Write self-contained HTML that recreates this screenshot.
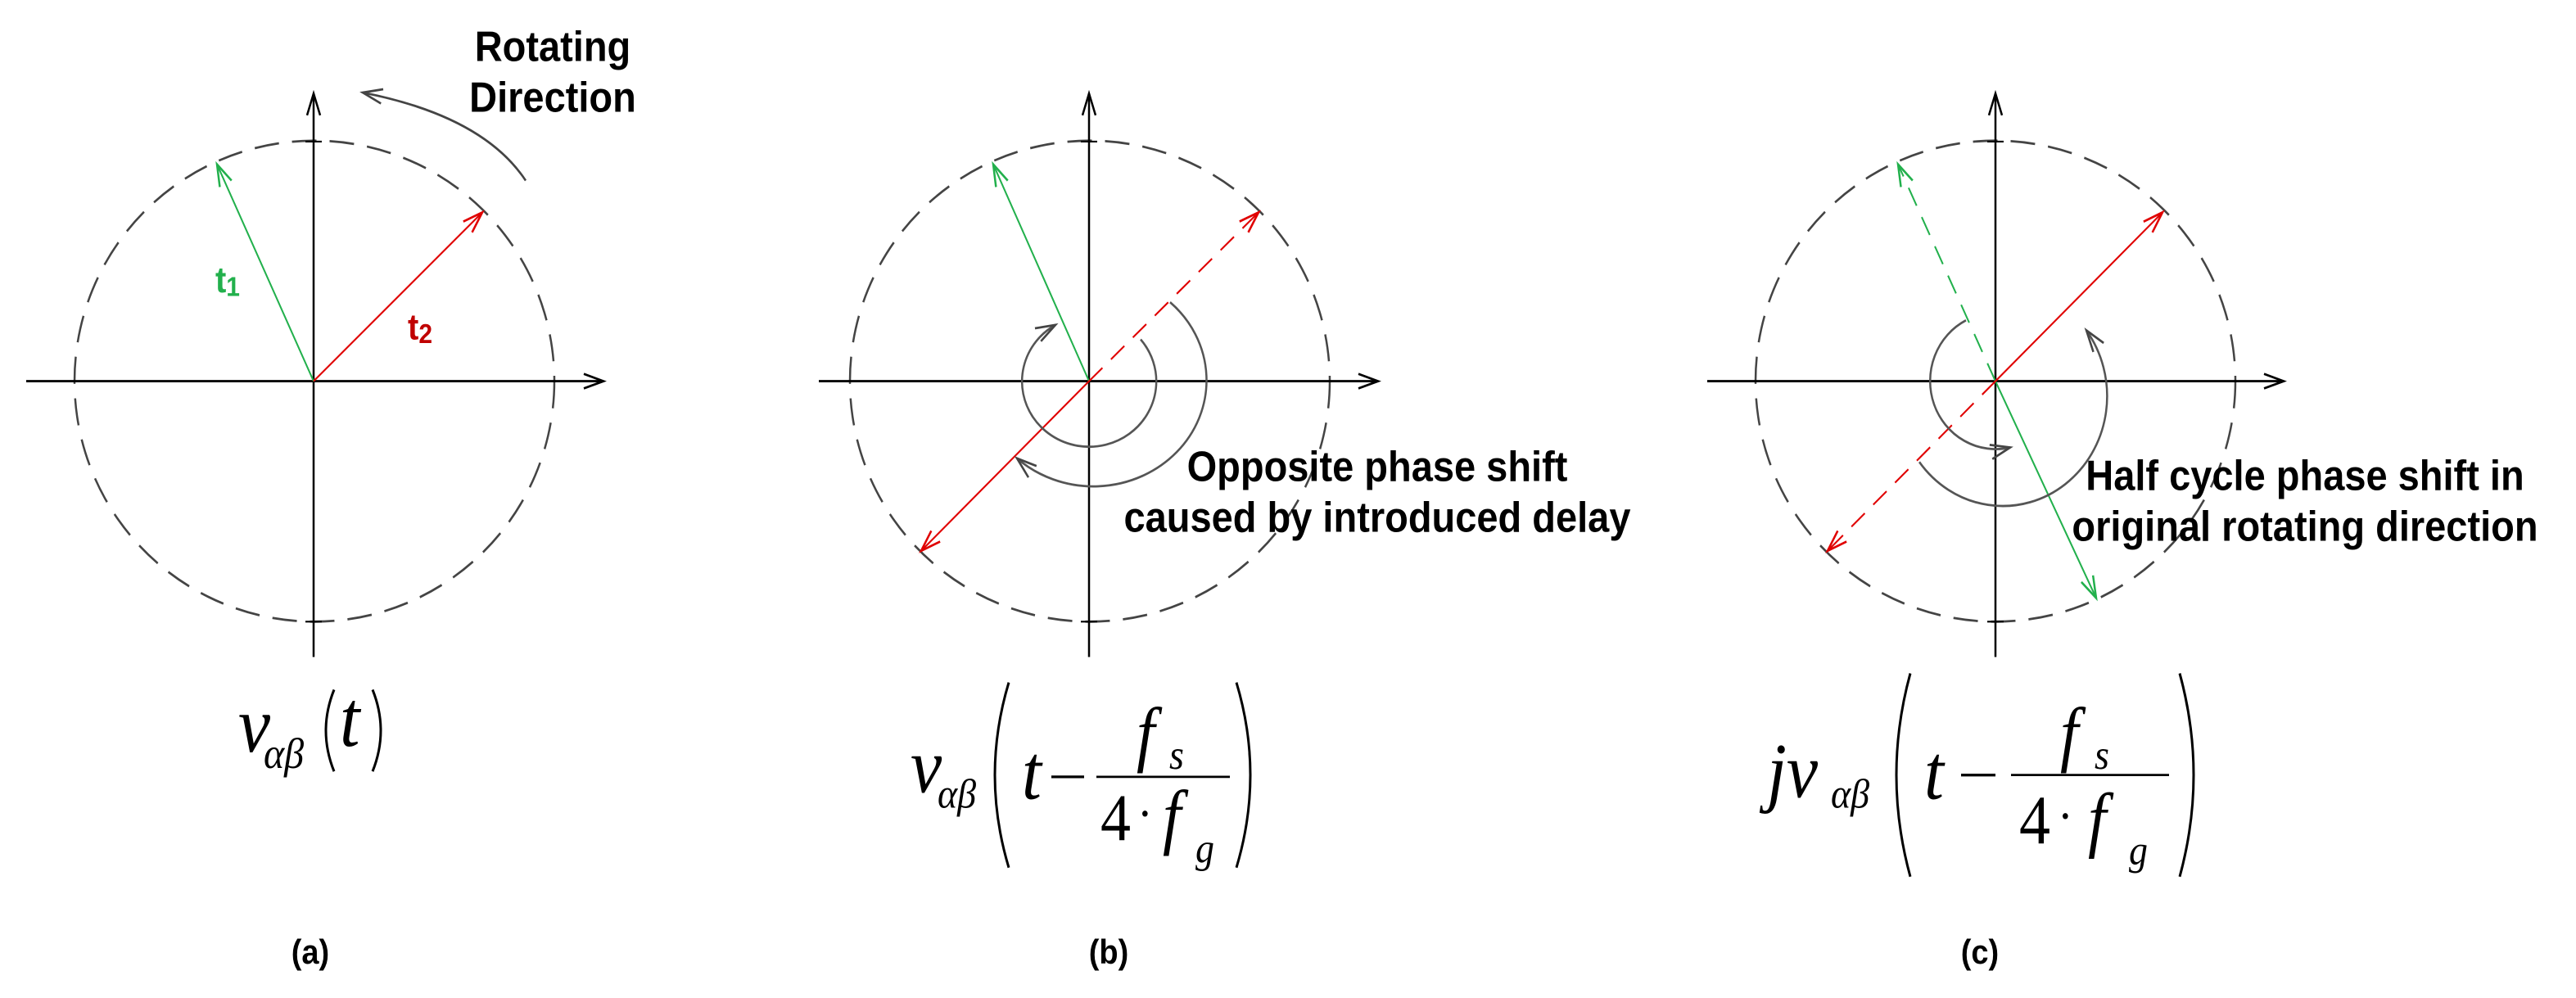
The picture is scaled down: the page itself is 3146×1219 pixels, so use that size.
<!DOCTYPE html>
<html><head><meta charset="utf-8"><style>
html,body{margin:0;padding:0;background:#fff;}
svg{display:block;}
.lbl{font-family:"Liberation Sans",sans-serif;font-weight:bold;fill:#000;}
.m{font-family:"Liberation Serif",serif;font-style:italic;fill:#000;}
.n{font-family:"Liberation Serif",serif;fill:#000;}
</style></head><body>
<svg width="3146" height="1219" viewBox="0 0 3146 1219" xmlns="http://www.w3.org/2000/svg">
<defs>
<marker id="ak" markerWidth="30" markerHeight="20" refX="26" refY="10" orient="auto" markerUnits="userSpaceOnUse"><path d="M2,2 L26,10 L2,18" fill="none" stroke="#000" stroke-width="2.5"/></marker>
<marker id="ag" markerWidth="30" markerHeight="20" refX="26" refY="10" orient="auto" markerUnits="userSpaceOnUse"><path d="M2,2 L26,10 L2,18" fill="none" stroke="#444" stroke-width="2.5"/></marker>
<marker id="agn" markerWidth="30" markerHeight="20" refX="26" refY="10" orient="auto" markerUnits="userSpaceOnUse"><path d="M2,2 L26,10 L2,18" fill="none" stroke="#22b04c" stroke-width="2.5"/></marker>
<marker id="ar" markerWidth="30" markerHeight="20" refX="26" refY="10" orient="auto" markerUnits="userSpaceOnUse"><path d="M2,2 L26,10 L2,18" fill="none" stroke="#e00000" stroke-width="2.5"/></marker>
</defs>
<g transform="scale(1,1.1085)">
<!-- Panel A -->
<g>
<ellipse cx="384" cy="420" rx="293" ry="265" fill="none" stroke="#444" stroke-width="2.5" stroke-dasharray="30,16"/>
<line x1="32" y1="420" x2="737" y2="420" stroke="#000" stroke-width="2.5" marker-end="url(#ak)"/>
<line x1="383" y1="724" x2="383" y2="103" stroke="#000" stroke-width="2.5" marker-end="url(#ak)"/>
<line x1="373" y1="156" x2="393" y2="156" stroke="#000" stroke-width="2"/>
<line x1="373" y1="685" x2="393" y2="685" stroke="#000" stroke-width="2"/>
<line x1="383" y1="420" x2="265" y2="181" stroke="#22b04c" stroke-width="2" marker-end="url(#agn)"/>
<line x1="383" y1="420" x2="589" y2="234" stroke="#e00000" stroke-width="2" marker-end="url(#ar)"/>
<text x="263" y="322" class="lbl" style="fill:#22b04c;font-size:40px">t<tspan font-size="30" dy="4">1</tspan></text>
<text x="498" y="374" class="lbl" style="fill:#c00000;font-size:40px">t<tspan font-size="30" dy="4">2</tspan></text>
<path d="M642,199 Q590,128 443,102" fill="none" stroke="#444" stroke-width="2.5" marker-end="url(#ag)"/>
<text x="675" y="67" class="lbl" font-size="47" text-anchor="middle">Rotating</text>
<text x="675" y="123" class="lbl" font-size="47" text-anchor="middle">Direction</text>
<text x="291" y="828" class="m" font-size="88">v</text>
<text x="322" y="846" class="m" font-size="48">αβ</text>
<path d="M408,760 Q388,805 408,850" fill="none" stroke="#000" stroke-width="3"/>
<text x="415" y="822" class="m" font-size="88">t</text>
<path d="M455,760 Q475,805 455,850" fill="none" stroke="#000" stroke-width="3"/>
<text x="379" y="1062" class="lbl" font-size="38" text-anchor="middle">(a)</text>
</g>

<!-- Panel B -->
<g>
<ellipse cx="1331" cy="420" rx="293" ry="265" fill="none" stroke="#444" stroke-width="2.5" stroke-dasharray="30,16"/>
<line x1="1000" y1="420" x2="1683" y2="420" stroke="#000" stroke-width="2.5" marker-end="url(#ak)"/>
<line x1="1330" y1="724" x2="1330" y2="103" stroke="#000" stroke-width="2.5" marker-end="url(#ak)"/>
<line x1="1320" y1="156" x2="1340" y2="156" stroke="#000" stroke-width="2"/>
<line x1="1320" y1="685" x2="1340" y2="685" stroke="#000" stroke-width="2"/>
<line x1="1330" y1="420" x2="1213" y2="181" stroke="#22b04c" stroke-width="2" marker-end="url(#agn)"/>
<line x1="1330" y1="420" x2="1537" y2="234" stroke="#e00000" stroke-width="2" stroke-dasharray="22,14" marker-end="url(#ar)"/>
<line x1="1330" y1="420" x2="1125" y2="607" stroke="#e00000" stroke-width="2" marker-end="url(#ar)"/>
<path d="M1393,374 A82 72 0 1 1 1289,358" fill="none" stroke="#555" stroke-width="2.5" marker-end="url(#ag)"/>
<path d="M1429,333 A131 111 0 0 1 1242,505" fill="none" stroke="#555" stroke-width="2.5" marker-end="url(#ag)"/>
<text x="1682" y="530" class="lbl" font-size="47" text-anchor="middle">Opposite phase shift</text>
<text x="1682" y="586" class="lbl" font-size="47" text-anchor="middle">caused by introduced delay</text>
<text x="1112" y="873" class="m" font-size="86">v</text>
<text x="1145" y="890" class="m" font-size="46">αβ</text>
<path d="M1232,752 Q1198,854 1232,956" fill="none" stroke="#000" stroke-width="3"/>
<path d="M1510,752 Q1544,854 1510,956" fill="none" stroke="#000" stroke-width="3"/>
<text x="1248" y="880" class="m" font-size="86">t</text>
<line x1="1284" y1="856" x2="1324" y2="856" stroke="#000" stroke-width="3"/>
<line x1="1339" y1="856" x2="1502" y2="856" stroke="#000" stroke-width="2.5"/>
<text x="1388" y="835" class="m" font-size="80">f</text>
<text x="1428" y="847" class="m" font-size="46">s</text>
<text x="1344" y="926" class="n" font-size="74">4</text>
<text x="1389" y="915" class="n" font-size="56">·</text>
<text x="1420" y="926" class="m" font-size="80">f</text>
<text x="1460" y="950" class="m" font-size="46">g</text>
<text x="1354" y="1062" class="lbl" font-size="38" text-anchor="middle">(b)</text>
</g>

<!-- Panel C -->
<g>
<ellipse cx="2437" cy="420" rx="293" ry="265" fill="none" stroke="#444" stroke-width="2.5" stroke-dasharray="30,16"/>
<line x1="2085" y1="420" x2="2789" y2="420" stroke="#000" stroke-width="2.5" marker-end="url(#ak)"/>
<line x1="2437" y1="724" x2="2437" y2="103" stroke="#000" stroke-width="2.5" marker-end="url(#ak)"/>
<line x1="2427" y1="156" x2="2447" y2="156" stroke="#000" stroke-width="2"/>
<line x1="2427" y1="685" x2="2447" y2="685" stroke="#000" stroke-width="2"/>
<line x1="2437" y1="420" x2="2318" y2="181" stroke="#22b04c" stroke-width="2" stroke-dasharray="22,14" marker-end="url(#agn)"/>
<line x1="2437" y1="420" x2="2560" y2="659" stroke="#22b04c" stroke-width="2" marker-end="url(#agn)"/>
<line x1="2437" y1="420" x2="2641" y2="234" stroke="#e00000" stroke-width="2" marker-end="url(#ar)"/>
<line x1="2437" y1="420" x2="2232" y2="607" stroke="#e00000" stroke-width="2" stroke-dasharray="22,14" marker-end="url(#ar)"/>
<path d="M2401,353 A80 75 0 0 0 2455,493" fill="none" stroke="#555" stroke-width="2.5" marker-end="url(#ag)"/>
<path d="M2344,509 A121 115 0 1 0 2548,364" fill="none" stroke="#555" stroke-width="2.5" marker-end="url(#ag)"/>
<text x="2815" y="540" class="lbl" font-size="47" text-anchor="middle">Half cycle phase shift in</text>
<text x="2815" y="596" class="lbl" font-size="47" text-anchor="middle">original rotating direction</text>
<text x="2158" y="878" class="m" font-size="86">jv</text>
<text x="2236" y="890" class="m" font-size="46">αβ</text>
<path d="M2333,742 Q2299,854 2333,966" fill="none" stroke="#000" stroke-width="3"/>
<path d="M2662,742 Q2696,854 2662,966" fill="none" stroke="#000" stroke-width="3"/>
<text x="2350" y="880" class="m" font-size="86">t</text>
<line x1="2395" y1="854" x2="2437" y2="854" stroke="#000" stroke-width="3"/>
<line x1="2456" y1="854" x2="2649" y2="854" stroke="#000" stroke-width="2.5"/>
<text x="2516" y="835" class="m" font-size="80">f</text>
<text x="2558" y="847" class="m" font-size="46">s</text>
<text x="2466" y="929" class="n" font-size="76">4</text>
<text x="2513" y="918" class="n" font-size="56">·</text>
<text x="2550" y="929" class="m" font-size="80">f</text>
<text x="2600" y="952" class="m" font-size="46">g</text>
<text x="2418" y="1062" class="lbl" font-size="38" text-anchor="middle">(c)</text>
</g>
</g>
</svg>
</body></html>
